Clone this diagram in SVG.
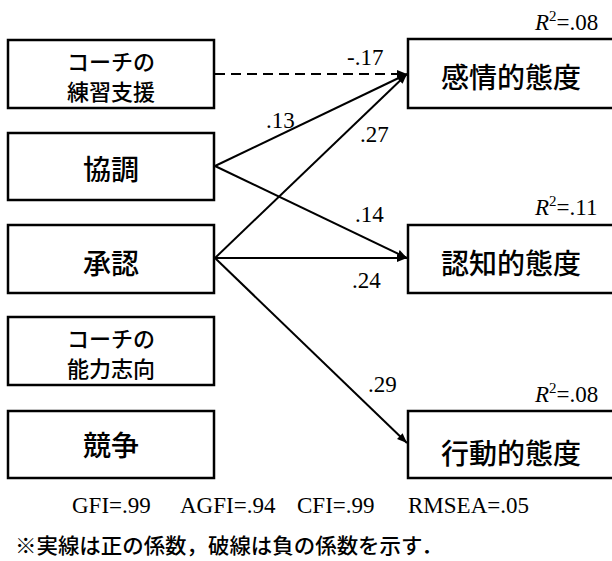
<svg xmlns="http://www.w3.org/2000/svg" width="612" height="561" viewBox="0 0 612 561">
<style>
.box{fill:#fff;stroke:#000;stroke-width:2.5}
.jp{font-family:"Noto Sans CJK JP","Noto Sans",sans-serif;font-weight:500;fill:#000}
.n28{font-size:28px;text-anchor:middle}
.n24{font-size:22px;text-anchor:middle}
.lbl{font-family:"Liberation Serif","Times New Roman",serif;font-size:23px;fill:#000}
.fit{font-family:"Liberation Serif","Times New Roman",serif;font-size:23px;fill:#000}
.ln{stroke:#000;stroke-width:2;fill:none;marker-end:url(#ah)}
.dash{stroke-dasharray:10 6}
</style>
<defs>
<marker id="ah" markerUnits="userSpaceOnUse" markerWidth="12" markerHeight="10" refX="10" refY="5" orient="auto">
<path d="M0,1 L10,5 L0,9 Z" fill="#000"/>
</marker>
</defs>
<rect width="612" height="561" fill="#fff"/>
<g id="connectors">
<line class="ln dash" x1="215" y1="74" x2="407" y2="74"/>
<line class="ln" x1="215" y1="166" x2="407" y2="74"/>
<line class="ln" x1="215" y1="166" x2="407" y2="258"/>
<line class="ln" x1="215" y1="258" x2="407" y2="74"/>
<line class="ln" x1="215" y1="258" x2="407" y2="258"/>
<line class="ln" x1="215" y1="258" x2="407" y2="443"/>
</g>
<g id="labels">
<text class="lbl" x="347" y="65">-.17</text>
<text class="lbl" x="266" y="128">.13</text>
<text class="lbl" x="360" y="142">.27</text>
<text class="lbl" x="355" y="222">.14</text>
<text class="lbl" x="352" y="288">.24</text>
<text class="lbl" x="368" y="392">.29</text>
</g>
<g id="n_practice">
<rect class="box" x="8" y="40" width="206" height="68"/>
<text class="jp n24" x="111" y="70">コーチの</text>
<text class="jp n24" x="111" y="100">練習支援</text>
</g>
<g id="n_kyocho">
<rect class="box" x="8" y="133" width="206" height="67"/>
<text class="jp n28" x="111" y="180">協調</text>
</g>
<g id="n_shonin">
<rect class="box" x="8" y="225" width="206" height="68"/>
<text class="jp n28" x="111" y="274">承認</text>
</g>
<g id="n_ability">
<rect class="box" x="8" y="317" width="206" height="68"/>
<text class="jp n24" x="111" y="347">コーチの</text>
<text class="jp n24" x="111" y="377">能力志向</text>
</g>
<g id="n_kyoso">
<rect class="box" x="8" y="411" width="206" height="67"/>
<text class="jp n28" x="111" y="456">競争</text>
</g>
<g id="n_affective">
<rect class="box" x="408" y="39" width="220" height="69"/>
<text class="jp n28" x="511" y="88">感情的態度</text>
<text class="lbl" x="535" y="30"><tspan font-style="italic">R</tspan><tspan font-size="15" dy="-9">2</tspan><tspan dy="9">=.08</tspan></text>
</g>
<g id="n_cognitive">
<rect class="box" x="408" y="225" width="220" height="68"/>
<text class="jp n28" x="511" y="274">認知的態度</text>
<text class="lbl" x="535" y="215"><tspan font-style="italic">R</tspan><tspan font-size="15" dy="-9">2</tspan><tspan dy="9">=.11</tspan></text>
</g>
<g id="n_behavioral">
<rect class="box" x="408" y="411" width="220" height="67"/>
<text class="jp n28" x="511" y="464">行動的態度</text>
<text class="lbl" x="535" y="402"><tspan font-style="italic">R</tspan><tspan font-size="15" dy="-9">2</tspan><tspan dy="9">=.08</tspan></text>
</g>
<g id="fit">
<text class="fit" x="72" y="513">GFI=.99</text>
<text class="fit" x="180" y="513">AGFI=.94</text>
<text class="fit" x="297" y="513">CFI=.99</text>
<text class="fit" x="408" y="513">RMSEA=.05</text>
</g>
<text class="jp" x="15" y="553" font-size="21" textLength="428" lengthAdjust="spacingAndGlyphs">※実線は正の係数，破線は負の係数を示す．</text>
</svg>
